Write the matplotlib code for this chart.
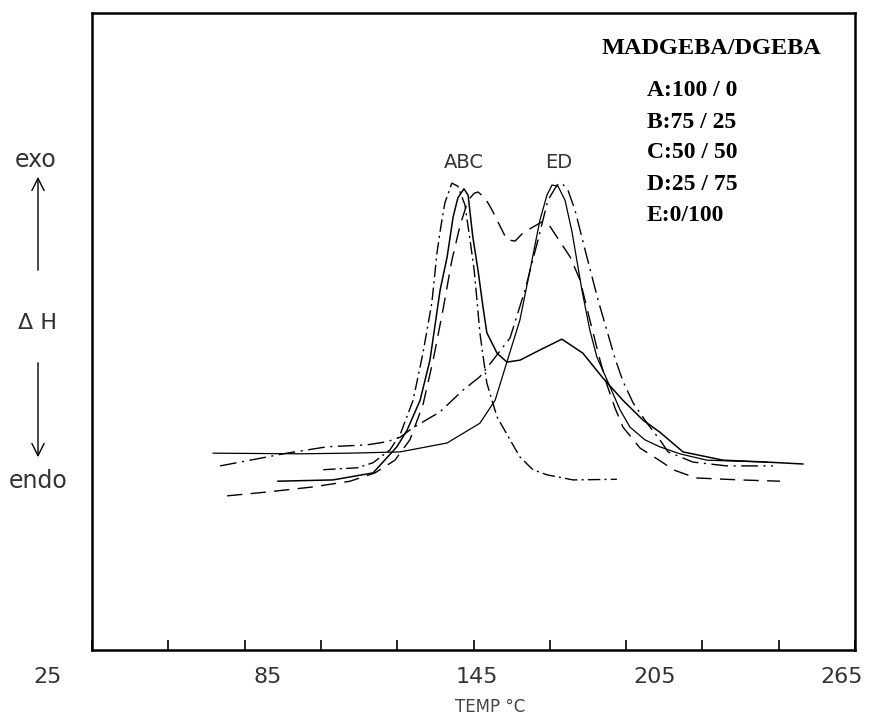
"""
DSC exotherms of MADGEBA/DGEBA blends: heat flow vs temperature.
"""

import numpy as np
import matplotlib.pyplot as plt
from matplotlib.patches import FancyArrowPatch

# ---- data (temperature in C, heat flow in arbitrary units)
A_T = [97.7, 108.4, 113.4, 118.7, 121.9, 126.0, 129.1, 131.9, 133.5, 134.8, 136.0, 138.2,
       140.1, 142.3, 143.9, 145.2, 146.1, 147.0, 149.2, 152.4, 156.5, 159.6, 163.7, 168.1,
       176.3, 190.1]
A_H = [28.3, 28.6, 29.4, 31.4, 33.8, 39.2, 46.6, 54.5, 62.3, 66.7, 70.2, 73.3,
       72.8, 69.9, 64.4, 59.7, 54.9, 49.8, 41.9, 36.6, 33.0, 30.3, 28.3, 27.5,
       26.7, 26.8]

B_T = [83.5, 100.8, 113.4, 120.9, 124.1, 128.2, 131.3, 134.5, 136.7, 138.6, 140.1, 142.0,
       143.3, 144.8, 146.4, 148.0, 149.2, 152.4, 155.5, 159.6, 165.9, 172.8, 179.4, 185.7,
       192.0, 198.3, 203.6, 210.9, 223.5, 237.3, 248.6]
B_H = [26.5, 26.7, 27.8, 31.9, 34.5, 39.2, 45.5, 56.5, 61.7, 68.0, 71.0, 72.4,
       71.4, 64.8, 59.7, 53.8, 49.8, 46.6, 45.2, 45.5, 47.1, 48.8, 46.6, 42.7,
       39.2, 36.1, 34.2, 31.1, 29.8, 29.5, 29.2]

C_T = [67.5, 80.0, 94.5, 106.2, 114.0, 120.3, 125.0, 129.1, 132.3, 135.4, 138.2, 140.8,
       143.3, 145.2, 146.4, 148.6, 150.8, 152.4, 155.5, 158.1, 160.6, 163.7, 166.5, 168.4,
       171.3, 175.4, 178.5, 181.6, 184.8, 187.0, 189.5, 192.0, 197.4, 204.6, 207.8, 212.2,
       215.3, 228.8, 241.4]
C_H = [24.2, 24.8, 25.6, 26.5, 27.8, 29.8, 33.0, 38.5, 45.5, 53.4, 61.2, 66.7,
       70.6, 71.7, 71.9, 71.0, 69.1, 67.5, 64.4, 64.2, 65.5, 66.4, 67.2, 67.0,
       64.8, 61.7, 58.1, 51.8, 45.5, 41.6, 38.0, 35.0, 31.7, 29.4, 28.3, 27.5,
       27.0, 26.7, 26.5]

D_T = [65.3, 86.3, 98.9, 111.5, 117.8, 121.9, 126.0, 134.5, 141.7, 147.0, 151.1, 156.5,
       161.2, 165.3, 168.4, 171.3, 172.8, 174.7, 176.9, 180.1, 184.2, 189.5, 192.0, 195.2,
       199.6, 203.6, 206.2, 214.0, 224.7, 239.2]
D_H = [28.9, 30.9, 31.9, 32.2, 32.7, 33.4, 34.9, 37.4, 40.8, 42.9, 45.5, 49.0,
       56.5, 64.4, 70.6, 73.0, 73.3, 72.2, 69.1, 62.8, 54.9, 45.8, 42.2, 38.8,
       35.6, 33.0, 31.1, 29.5, 28.9, 28.9]

E_T = [63.1, 90.4, 106.2, 121.9, 136.7, 147.0, 151.8, 155.5, 159.6, 162.8, 165.9, 168.1,
       169.7, 171.6, 173.8, 176.0, 179.1, 181.6, 183.8, 187.0, 191.1, 194.2, 198.9, 203.6,
       209.9, 218.4, 237.3]
E_H = [30.9, 30.8, 30.9, 31.1, 32.5, 35.6, 39.2, 45.2, 51.8, 59.7, 67.5, 71.4,
       73.0, 72.8, 70.6, 65.6, 56.5, 50.2, 46.0, 42.4, 37.7, 35.0, 33.0, 31.9,
       30.8, 29.8, 29.5]

TICK_LABELS = ["25", "85", "145", "205", "265"]
LEGEND_TITLE = "MADGEBA/DGEBA"
LEGEND_ROWS = ["A:100 / 0", "B:75 / 25", "C:50 / 50", "D:25 / 75", "E:0/100"]

W, H = 869, 719
NARROW = ["Liberation Sans Narrow", "DejaVu Sans"]


def fx(px):
    return px / W


def fy(py):
    return 1 - py / H


def main():
    fig = plt.figure(figsize=(W / 100, H / 100), dpi=100)
    ax = fig.add_axes([fx(92), fy(650), fx(855) - fx(92), fy(13) - fy(650)])

    ax.plot(A_T, A_H, color="black", lw=1.0, linestyle=(0, (9, 3, 1.5, 3)))
    ax.plot(B_T, B_H, color="black", lw=1.1, linestyle="-")
    ax.plot(C_T, C_H, color="black", lw=1.0, linestyle=(0, (11, 6)))
    ax.plot(D_T, D_H, color="black", lw=1.0, linestyle=(0, (12, 4, 1.5, 4)))
    ax.plot(E_T, E_H, color="black", lw=0.9, linestyle="-")

    ax.set_xlim(25, 265)
    ax.set_ylim(0, 100)
    ax.set_yticks([])
    ax.set_xticks(np.arange(25, 266, 24))
    ax.set_xticklabels([])
    ax.tick_params(axis="x", direction="in", length=7, width=1.2)
    for s in ax.spines.values():
        s.set_linewidth(1.8)

    # tick labels as drawn on the original (not aligned with the frame)
    for px, lab in zip([48, 268, 477, 655, 842], TICK_LABELS):
        fig.text(fx(px), fy(677), lab, ha="center", va="center",
                 fontsize=16, family=NARROW, color="#333")
    fig.text(fx(490), fy(707), "TEMP °C", ha="center", va="center",
             fontsize=12, family=NARROW, color="#444")

    # exo / endo axis annotation
    fig.text(fx(36), fy(160), "exo", ha="center", va="center", fontsize=17, color="#333")
    fig.text(fx(38), fy(323), "Δ H", ha="center", va="center", fontsize=16, color="#333")
    fig.text(fx(38), fy(481), "endo", ha="center", va="center", fontsize=17, color="#333")
    arrow = dict(arrowstyle="->", lw=1.0, color="black", mutation_scale=22)
    fig.add_artist(FancyArrowPatch((fx(38), fy(273)), (fx(38), fy(174)),
                                   transform=fig.transFigure, **arrow))
    fig.add_artist(FancyArrowPatch((fx(38), fy(360)), (fx(38), fy(460)),
                                   transform=fig.transFigure, **arrow))

    # peak letters
    fig.text(fx(464), fy(162), "ABC", ha="center", va="center", fontsize=14, color="#333")
    fig.text(fx(559), fy(162), "ED", ha="center", va="center", fontsize=14, color="#333")

    # legend block
    fig.text(fx(711), fy(48), LEGEND_TITLE, ha="center", va="center", fontsize=17.5,
             family="Liberation Serif", weight="bold")
    for py, row in zip([90, 122, 153, 184, 215], LEGEND_ROWS):
        fig.text(fx(647), fy(py), row, ha="left", va="center", fontsize=17,
                 family="Liberation Serif", weight="bold")

    fig.savefig("out.png", dpi=100)


if __name__ == "__main__":
    main()
